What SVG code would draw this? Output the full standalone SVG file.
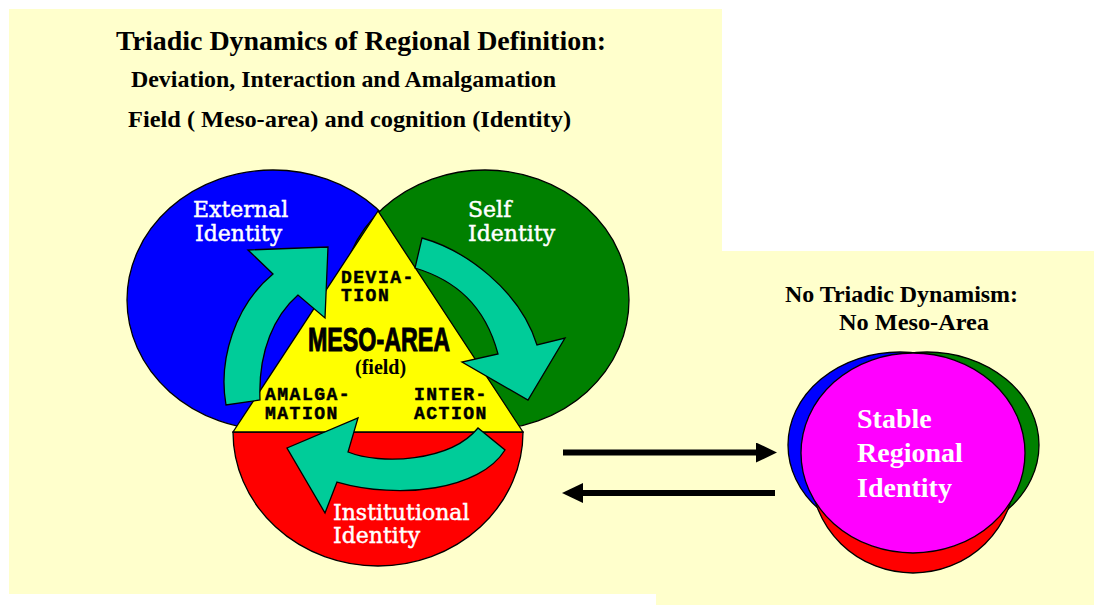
<svg xmlns="http://www.w3.org/2000/svg" width="1094" height="605" viewBox="0 0 1094 605">
<defs>
<style>
.bg{fill:#FFFFCC}
.ol{stroke:#000;stroke-width:1.3}
.head{font-family:"Liberation Serif",serif;font-weight:bold;fill:#000}
.lbl{font-family:"DejaVu Serif",serif;font-size:22px;fill:#fff;stroke:#fff;stroke-width:0.45}
.mono{font-family:"Liberation Mono",monospace;font-weight:bold;font-size:18px;letter-spacing:1.5px;fill:#000;stroke:#000;stroke-width:0.5}
.teal{fill:#00CC99;stroke:#000;stroke-width:1.3;stroke-linejoin:miter}
.conn{stroke:#000;stroke-width:6;fill:none}
.stable{font-family:"Liberation Serif",serif;font-weight:bold;font-size:28px;fill:#fff}
</style>
<marker id="ah" viewBox="0 0 21 20" refX="0" refY="10" markerWidth="21" markerHeight="20" markerUnits="userSpaceOnUse" orient="auto">
<path d="M0,0 L21,10 L0,20 Z" fill="#000"/>
</marker>
</defs>

<rect class="bg" x="9" y="9" width="713" height="585"/>
<rect class="bg" x="656" y="251" width="438" height="354"/>

<g id="titles">
<text class="head" x="116" y="50" font-size="28" textLength="490" lengthAdjust="spacingAndGlyphs">Triadic Dynamics of Regional Definition:</text>
<text class="head" x="131" y="87" font-size="24" textLength="425" lengthAdjust="spacingAndGlyphs">Deviation, Interaction and Amalgamation</text>
<text class="head" x="128" y="127" font-size="24" textLength="443" lengthAdjust="spacingAndGlyphs">Field ( Meso-area) and cognition (Identity)</text>
</g>

<g id="external-identity">
<ellipse class="ol" cx="273" cy="300" rx="146" ry="130" fill="#0000FF"/>
<text class="lbl" x="193" y="217">External</text>
<text class="lbl" x="195" y="241">Identity</text>
</g>

<g id="self-identity">
<ellipse class="ol" cx="485" cy="300" rx="144" ry="130" fill="#008000"/>
<text class="lbl" x="468" y="217">Self</text>
<text class="lbl" x="468" y="241">Identity</text>
</g>

<g id="institutional-identity">
<path class="ol" d="M233,432 A145,134 0 0 0 523,432 Z" fill="#FF0000"/>
<text class="lbl" x="333" y="520">Institutional</text>
<text class="lbl" x="333" y="543">Identity</text>
</g>

<g id="meso-area">
<polygon class="ol" points="378,211 233,432 523,432" fill="#FFFF00"/>
<text x="308" y="351" font-family="Liberation Sans, Arial, sans-serif" font-weight="bold" font-size="33" fill="#000" stroke="#000" stroke-width="1" textLength="142" lengthAdjust="spacingAndGlyphs">MESO-AREA</text>
<text class="head" x="355" y="374" font-size="20">(field)</text>
</g>

<g id="cycle-arrows">
<path class="teal" d="M226,405 C218,360 235,305 273,274 L248,250 L328,247 L325,318 L298,295 C275,315 258,350 260,400 Z"/>
<path class="teal" d="M422,238 C465,250 520,290 537,345 L565,338 L528,400 L462,362 L498,354 C485,305 455,280 415,268 Z"/>
<path class="teal" d="M505,450 C480,490 400,500 337,482 L325,513 L287,448 L358,418 L348,452 C380,465 450,462 478,428 Z"/>
</g>

<g id="process-labels">
<text class="mono" x="341" y="283">DEVIA-</text>
<text class="mono" x="341" y="301">TION</text>
<text class="mono" x="265" y="400">AMALGA-</text>
<text class="mono" x="265" y="419">MATION</text>
<text class="mono" x="414" y="400">INTER-</text>
<text class="mono" x="414" y="419">ACTION</text>
</g>

<g id="no-triadic-title">
<text class="head" x="785" y="302" font-size="24" textLength="233" lengthAdjust="spacingAndGlyphs">No Triadic Dynamism:</text>
<text class="head" x="839" y="330" font-size="24" textLength="150" lengthAdjust="spacingAndGlyphs">No Meso-Area</text>
</g>

<g id="stable-regional-identity">
<ellipse class="ol" cx="900" cy="445" rx="112" ry="93" fill="#0000FF"/>
<ellipse class="ol" cx="927" cy="445" rx="112" ry="93" fill="#008000"/>
<ellipse class="ol" cx="913" cy="473" rx="102" ry="100" fill="#FF0000"/>
<ellipse class="ol" cx="913" cy="453" rx="112" ry="100" fill="#FF00FF"/>
<text class="stable" x="857" y="428">Stable</text>
<text class="stable" x="857" y="462">Regional</text>
<text class="stable" x="857" y="497">Identity</text>
</g>

<g id="connectors">
<line class="conn" x1="563" y1="452.5" x2="756" y2="452.5" marker-end="url(#ah)"/>
<line class="conn" x1="775" y1="493" x2="583" y2="493" marker-end="url(#ah)"/>
</g>
</svg>
